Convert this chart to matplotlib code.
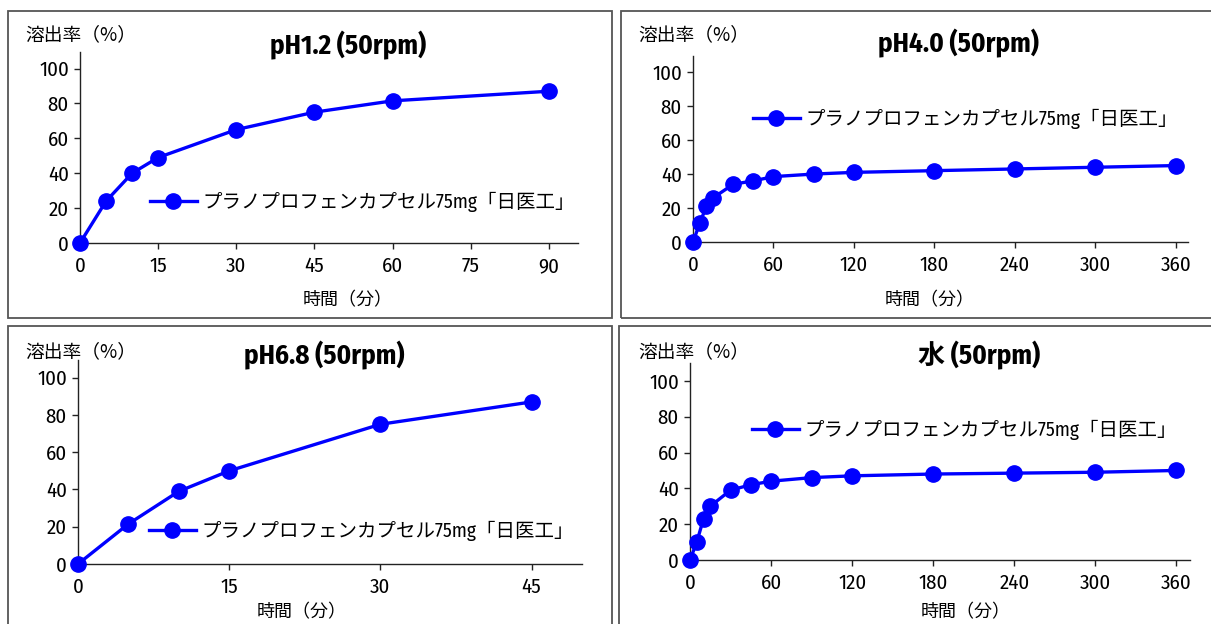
import matplotlib

matplotlib.use("Agg")

import matplotlib.pyplot as plt
from matplotlib.patches import Rectangle

# ---- data ----
series_name = "プラノプロフェンカプセル75mg「日医工」"
y_label = "溶出率（%）"
x_label = "時間（分）"

ph12_title = "pH1.2 (50rpm)"
ph12_time = [0, 5, 10, 15, 30, 45, 60, 90]
ph12_rate = [0, 24, 40, 49, 65, 75, 81.5, 87]
ph12_xticks = [0, 15, 30, 45, 60, 75, 90]

ph40_title = "pH4.0 (50rpm)"
ph40_time = [0, 5, 10, 15, 30, 45, 60, 90, 120, 180, 240, 300, 360]
ph40_rate = [0, 11, 21, 26, 34, 36, 38.5, 40, 41, 42, 43, 44, 45]
ph40_xticks = [0, 60, 120, 180, 240, 300, 360]

ph68_title = "pH6.8 (50rpm)"
ph68_time = [0, 5, 10, 15, 30, 45]
ph68_rate = [0, 21.5, 39, 50, 75, 87]
ph68_xticks = [0, 15, 30, 45]

water_title = "水 (50rpm)"
water_time = [0, 5, 10, 15, 30, 45, 60, 90, 120, 180, 240, 300, 360]
water_rate = [0, 10, 23, 30, 39, 42, 44, 46, 47, 48, 48.5, 49, 50]
water_xticks = [0, 60, 120, 180, 240, 300, 360]

y_ticks = [0, 20, 40, 60, 80, 100]

W, H = 1211, 624
fig = plt.figure(figsize=(W / 100, H / 100), dpi=100, facecolor="white")

NUM_FONT = ["Fira Sans Condensed", "Noto Sans CJK JP", "DejaVu Sans"]
JP_FONT = ["Noto Sans CJK JP", "DejaVu Sans"]
LEG_FONT = ["Fira Sans Condensed", "Noto Sans CJK JP", "DejaVu Sans"]


def fx(px):
    return px / W


def fy(py):
    return 1 - py / H


def panel(box, axes_px, xmax, ymax, time, rate, xticks, title, title_xy,
          ylab_xy, xlab_xy, legend_xy):
    # gray frame around the chart area
    bx0, by0, bx1, by1 = box
    fig.patches.append(
        Rectangle((fx(bx0), fy(by1)), fx(bx1 - bx0), (by1 - by0) / H,
                  transform=fig.transFigure, fill=False,
                  edgecolor="#555555", linewidth=1.3)
    )

    left, right, top, bottom = axes_px
    ax = fig.add_axes([fx(left), fy(bottom), fx(right - left), (bottom - top) / H])
    ax.plot(time, rate, color="#0000ff", linewidth=2.4, marker="o",
            markersize=11, clip_on=False, label=series_name, zorder=3)
    ax.set_xlim(0, xmax)
    ax.set_ylim(0, ymax)
    ax.set_xticks(xticks)
    ax.set_yticks(y_ticks)
    for s in ("top", "right"):
        ax.spines[s].set_visible(False)
    for s in ("left", "bottom"):
        ax.spines[s].set_linewidth(1.0)
        ax.spines[s].set_color("#222222")
    ax.tick_params(direction="out", length=4, width=1, color="#222222",
                   labelsize=15, pad=4)
    ax.tick_params(axis="x", pad=6)
    for lab in ax.get_xticklabels() + ax.get_yticklabels():
        lab.set_family(NUM_FONT)

    fig.text(fx(title_xy[0]), fy(title_xy[1]), title, ha="center", va="center",
             fontsize=19.5, fontweight="bold", family=NUM_FONT)
    fig.text(fx(ylab_xy[0]), fy(ylab_xy[1]), y_label, ha="left", va="center",
             fontsize=13.5, family=JP_FONT)
    fig.text(fx(xlab_xy[0]), fy(xlab_xy[1]), x_label, ha="center", va="center",
             fontsize=13, family=JP_FONT)

    ax.legend(loc="center left", bbox_to_anchor=(fx(legend_xy[0]), fy(legend_xy[1])),
              bbox_transform=fig.transFigure, frameon=False, borderpad=0,
              borderaxespad=0, handlelength=2.4, handletextpad=0.3,
              prop={"family": LEG_FONT, "size": 14})
    return ax


panel((8, 11, 612, 318), (80, 578, 52, 243), 95.6, 109.5,
      ph12_time, ph12_rate, ph12_xticks, ph12_title,
      (348, 45), (25, 35), (348, 300), (150, 202))
panel((621, 11, 1216, 318), (693, 1188, 56, 242), 369, 109.5,
      ph40_time, ph40_rate, ph40_xticks, ph40_title,
      (958, 43), (638, 35), (930, 300), (753, 119))
panel((8, 326, 612, 640), (78, 582, 360, 564), 50, 109.5,
      ph68_time, ph68_rate, ph68_xticks, ph68_title,
      (324, 355), (25, 352), (302, 612), (149, 531))
panel((619, 326, 1216, 640), (690, 1190, 363, 560), 370, 110,
      water_time, water_rate, water_xticks, water_title,
      (979, 355), (638, 352), (966, 612), (752, 430))

fig.savefig("out.png", dpi=100, facecolor="white")
